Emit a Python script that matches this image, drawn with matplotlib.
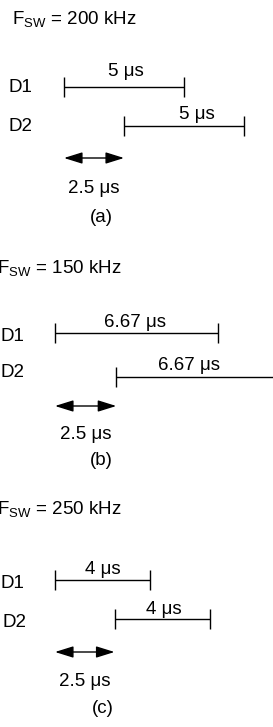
import matplotlib.pyplot as plt
from matplotlib.patches import FancyArrowPatch

plt.rcParams['font.family'] = ['Liberation Sans', 'DejaVu Sans']
plt.rcParams['mathtext.fontset'] = 'custom'
plt.rcParams['mathtext.rm'] = 'Liberation Sans'

# data
freq_khz = [200, 150, 250]
on_time = [5, 6.67, 4]          # us, D1 and D2 conduction time
phase_shift = [2.5, 2.5, 2.5]   # us, D2 starts after D1
on_labels = ['5 μs', '6.67 μs', '4 μs']
shift_labels = ['2.5 μs', '2.5 μs', '2.5 μs']
tags = ['(a)', '(b)', '(c)']
rows = ['D1', 'D2']

# layout (pixels)
W, H = 273, 727
x0 = [64, 55, 55]
px_per_us = [24, 24.5, 23.8]
title_x = [12, -3, -3]
title_y = [25, 274, 515]
bar_y = [(87, 126), (333, 377), (580, 619)]
row_lbl_x = [(8, 8), (0, 0), (0, 2)]
row_lbl_y = [(92, 131), (341, 377), (588, 627)]
on_lbl_y = [(76, 119), (327, 370), (574, 614)]
on_lbl_dx = [(2, 13), (-2, -9), (0, 2)]
arrow_y = [158, 406, 652]
shift_lbl_y = [193, 439, 686]
tag_x = [101, 101, 103]
tag_y = [222, 465, 713]
fs = 13.5

fig = plt.figure(figsize=(W / 100, H / 100), dpi=100)

for i in range(3):
    ax = fig.add_axes([0, 0, 1, 1])
    ax.set_xlim(-x0[i] / px_per_us[i], (W - x0[i]) / px_per_us[i])
    ax.set_ylim(H, 0)
    ax.axis('off')
    tr = ax.get_yaxis_transform()

    ax.text(title_x[i] / W, title_y[i], 'F$_{\\mathregular{SW}}$ = %d kHz' % freq_khz[i],
            transform=tr, fontsize=fs, ha='left', va='baseline')

    starts = [0, phase_shift[i]]
    for j in range(2):
        s = starts[j]
        e = s + on_time[i]
        y = bar_y[i][j]
        ax.hlines(y, s, e, color='k', lw=1)
        ax.vlines([s, e], y - 10, y + 10, color='k', lw=1)
        ax.text(row_lbl_x[i][j] / W, row_lbl_y[i][j], rows[j], transform=tr,
                fontsize=fs, ha='left', va='baseline')
        cx = (s + e) / 2 + on_lbl_dx[i][j] / px_per_us[i]
        ax.text(cx, on_lbl_y[i][j], on_labels[i], fontsize=fs,
                ha='center', va='baseline')

    arr = FancyArrowPatch((0, arrow_y[i]), (phase_shift[i], arrow_y[i]),
                          arrowstyle='<|-|>,head_length=0.8,head_width=0.25',
                          mutation_scale=14, lw=1, color='k',
                          shrinkA=0, shrinkB=0)
    ax.add_patch(arr)
    ax.text(phase_shift[i] / 2, shift_lbl_y[i], shift_labels[i], fontsize=fs,
            ha='center', va='baseline')
    ax.text(tag_x[i] / W, tag_y[i], tags[i], transform=tr, fontsize=fs,
            ha='center', va='baseline')

fig.savefig('out.png', dpi=100)
